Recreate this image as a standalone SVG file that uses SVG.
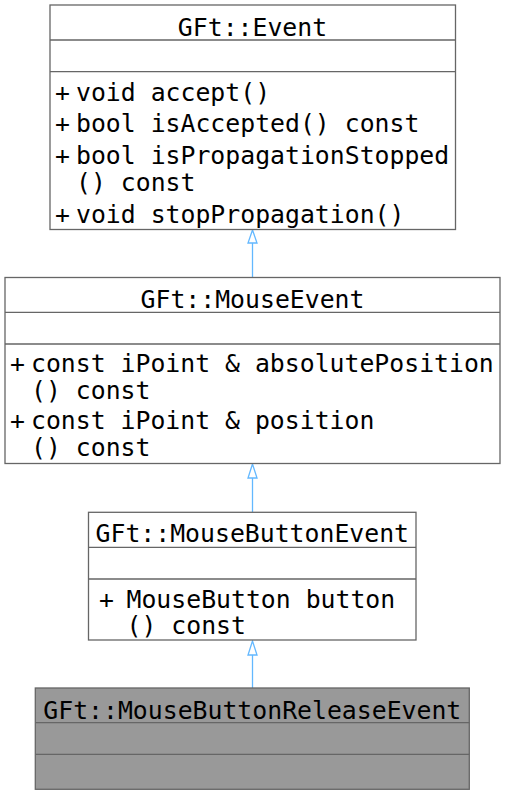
<svg xmlns="http://www.w3.org/2000/svg" width="505" height="795" viewBox="0 0 505 795">
<defs>
<style>
text{font-family:"DejaVu Sans Mono","Liberation Mono",monospace;font-size:24.8px;fill:#000}
.c{text-anchor:middle}
.box{fill:#fff;stroke:#666;stroke-width:1.3}
.cur{fill:#999;stroke:#666;stroke-width:1.3}
.ln{stroke:#666;stroke-width:1.3;fill:none}
.edge{stroke:#63b8ff;stroke-width:1.3;fill:none}
.head{stroke:#63b8ff;stroke-width:1.3;fill:#fff}
</style>
</defs>
<g id="connectors">
<path class="edge" d="M252.5,277V243"/><polygon class="head" points="252.5,230 248,243 257,243"/>
<path class="edge" d="M252.5,512V478"/><polygon class="head" points="252.5,464 248,478 257,478"/>
<path class="edge" d="M252.5,688V655"/><polygon class="head" points="252.5,641 248,655 257,655"/>
</g>
<g id="Event">
<rect class="box" x="50" y="5" width="405.5" height="224.5"/>
<path class="ln" d="M50,40H455.5M50,71.7H455.5"/>
<text class="c" x="252.5" y="36">GFt::Event</text>
<text x="55" y="101">+</text><text x="76" y="101">void accept()</text>
<text x="55" y="132">+</text><text x="76" y="132">bool isAccepted() const</text>
<text x="55" y="164">+</text><text x="76" y="164">bool isPropagationStopped</text>
<text x="76" y="191">() const</text>
<text x="55" y="222.5">+</text><text x="76" y="222.5">void stopPropagation()</text>
</g>
<g id="MouseEvent">
<rect class="box" x="5" y="277.5" width="495" height="186"/>
<path class="ln" d="M5,312.3H500M5,344H500"/>
<text class="c" x="252.5" y="308">GFt::MouseEvent</text>
<text x="10" y="372">+</text><text x="31" y="372">const iPoint &amp; absolutePosition</text>
<text x="31" y="399">() const</text>
<text x="10" y="429.3">+</text><text x="31" y="429.3">const iPoint &amp; position</text>
<text x="31" y="456">() const</text>
</g>
<g id="MouseButtonEvent">
<rect class="box" x="88.5" y="512.3" width="327.5" height="127.7"/>
<path class="ln" d="M88.5,547.3H416M88.5,579H416"/>
<text class="c" x="252.3" y="542">GFt::MouseButtonEvent</text>
<text x="99" y="607.7">+</text><text x="126.5" y="607.7">MouseButton button</text>
<text x="126.5" y="634.3">() const</text>
</g>
<g id="MouseButtonReleaseEvent">
<rect class="cur" x="35.3" y="688" width="434" height="101.3"/>
<path class="ln" d="M35.3,722.7H469.3M35.3,754.3H469.3"/>
<text class="c" x="252.3" y="718.7">GFt::MouseButtonReleaseEvent</text>
</g>
</svg>
